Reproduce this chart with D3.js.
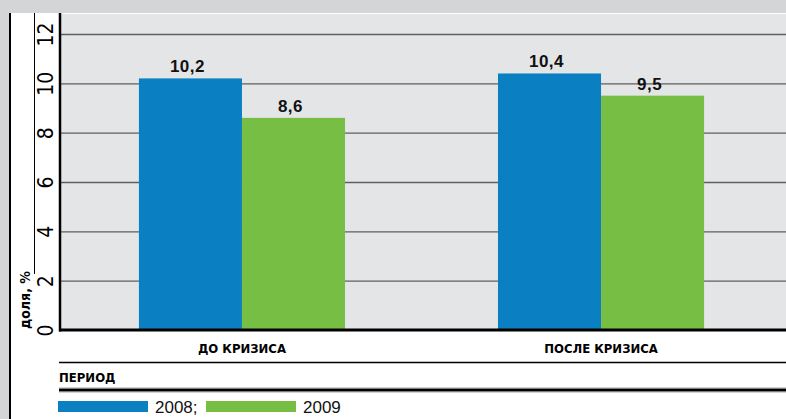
<!DOCTYPE html>
<html>
<head>
<meta charset="utf-8">
<script src="https://cdn.jsdelivr.net/npm/d3@7"></script>
<style>
  html, body { margin: 0; padding: 0; background: #fff; }
  svg { display: block; }
  .narrow { font-family: "Liberation Sans Narrow", "DejaVu Sans Condensed", "Liberation Sans", sans-serif; }
</style>
</head>
<body>
<svg id="chart" width="786" height="419"></svg>
<script>
// Periods on the x axis and the two yearly series (share, %)
const categories = ["ДО КРИЗИСА", "ПОСЛЕ КРИЗИСА"];
const seriesNames = ["2008", "2009"];
const values2008 = [10.2, 10.4];
const values2009 = [8.6, 9.5];
const yTicks = [0, 2, 4, 6, 8, 10, 12];
const valueLabels2008 = ["10,2", "10,4"];
const valueLabels2009 = ["8,6", "9,5"];
const legendLabels = ["2008;", "2009"];
const colors = ["#0a80c2", "#76bf44"];

const W = 786, H = 419;
const svg = d3.select("#chart");

const plotLeft = 61, plotRight = 786, plotTop = 14, plotBottom = 330;

const x = d3.scaleBand().domain(categories).range([plotLeft, 782])
  .paddingInner(0.426).paddingOuter(0.217);
const xs = d3.scaleBand().domain(seriesNames).range([0, x.bandwidth()]).padding(0);
const y = d3.scaleLinear().domain([0, 12]).range([plotBottom, 34]);

const rows = categories.map((c, i) => ({
  cat: c,
  items: [
    { s: seriesNames[0], v: values2008[i], label: valueLabels2008[i] },
    { s: seriesNames[1], v: values2009[i], label: valueLabels2009[i] }
  ]
}));

// page frame
svg.append("rect").attr("x", 0).attr("y", 0).attr("width", W).attr("height", H).attr("fill", "#fff");
svg.append("rect").attr("x", 0).attr("y", 0).attr("width", W).attr("height", 13).attr("fill", "#d4d5d7");
svg.append("rect").attr("x", 0).attr("y", 0).attr("width", 9).attr("height", H).attr("fill", "#d4d5d7");
svg.append("line").attr("x1", 10).attr("x2", 10).attr("y1", 13).attr("y2", H)
  .attr("stroke", "#000").attr("stroke-width", 2);
svg.append("line").attr("x1", 34.5).attr("x2", 34.5).attr("y1", 13).attr("y2", 274)
  .attr("stroke", "#000").attr("stroke-width", 1);

// plot background
svg.append("rect").attr("x", plotLeft).attr("y", plotTop)
  .attr("width", plotRight - plotLeft).attr("height", plotBottom - plotTop)
  .attr("fill", "#e4e5e7");

// gridlines and rotated tick labels
const yAxis = svg.append("g").attr("transform", `translate(${plotLeft},0)`)
  .call(d3.axisLeft(y).tickValues(yTicks).tickSize(-(plotRight - plotLeft)).tickFormat(d3.format("d")));
yAxis.select(".domain").remove();
yAxis.selectAll(".tick line").attr("stroke", "#5f5f5f").attr("stroke-width", 1.3)
  .filter(d => d === 0).remove();
yAxis.selectAll(".tick text")
  .attr("class", "narrow")
  .attr("x", null).attr("dy", null)
  .attr("transform", "translate(-8,0) rotate(-90)")
  .attr("text-anchor", "middle")
  .attr("dy", "0")
  .attr("fill", "#000")
  .style("font-size", "21px");

// bars
const groups = svg.append("g").selectAll("g").data(rows).join("g")
  .attr("transform", d => `translate(${x(d.cat)},0)`);
groups.selectAll("rect").data(d => d.items).join("rect")
  .attr("x", d => xs(d.s)).attr("width", xs.bandwidth())
  .attr("y", d => y(d.v)).attr("height", d => y(0) - y(d.v))
  .attr("fill", (d, i) => colors[i]);
groups.selectAll("text").data(d => d.items).join("text")
  .attr("x", d => xs(d.s) + xs.bandwidth() / 2 - 3)
  .attr("y", d => y(d.v) - 6)
  .attr("text-anchor", "middle")
  .attr("font-family", "Liberation Sans, Arial, sans-serif")
  .attr("font-weight", "bold")
  .attr("font-size", 17)
  .attr("letter-spacing", 0.5)
  .attr("fill", "#111")
  .text(d => d.label);

// axis lines
svg.append("line").attr("x1", 60).attr("x2", 60).attr("y1", 13).attr("y2", 331.5)
  .attr("stroke", "#000").attr("stroke-width", 2.5);
svg.append("line").attr("x1", 59).attr("x2", plotRight).attr("y1", 330).attr("y2", 330)
  .attr("stroke", "#000").attr("stroke-width", 3);

// y title
svg.append("text").attr("class", "narrow")
  .attr("transform", "translate(30,329) rotate(-90)")
  .attr("font-weight", "bold").attr("font-size", 14).attr("fill", "#000")
  .text("доля, %");

// category labels
svg.append("g").selectAll("text").data(categories).join("text")
  .attr("class", "narrow")
  .attr("x", d => x(d) + x.bandwidth() / 2)
  .attr("y", 353)
  .attr("text-anchor", "middle")
  .attr("font-weight", "bold").attr("font-size", 13).attr("fill", "#000")
  .text(d => d);

svg.append("line").attr("x1", 59).attr("x2", plotRight).attr("y1", 362.5).attr("y2", 362.5)
  .attr("stroke", "#000").attr("stroke-width", 1.5);
svg.append("text").attr("class", "narrow")
  .attr("x", 59).attr("y", 382)
  .attr("font-weight", "bold").attr("font-size", 13).attr("fill", "#000")
  .text("ПЕРИОД");
svg.append("line").attr("x1", 59).attr("x2", plotRight).attr("y1", 390).attr("y2", 390)
  .attr("stroke", "#a8a8a8").attr("stroke-width", 5);
svg.append("line").attr("x1", 59).attr("x2", plotRight).attr("y1", 390).attr("y2", 390)
  .attr("stroke", "#000").attr("stroke-width", 2.5);

// legend
const legendX = [58, 206];
const lg = svg.append("g").selectAll("g").data(seriesNames).join("g")
  .attr("transform", (d, i) => `translate(${legendX[i]},401)`);
lg.append("rect").attr("width", 90).attr("height", 11).attr("fill", (d, i) => colors[i]);
lg.append("text").attr("x", 97).attr("y", 12)
  .attr("font-family", "Liberation Sans, Arial, sans-serif")
  .attr("font-size", 17).attr("fill", "#111")
  .text((d, i) => legendLabels[i]);
</script>
</body>
</html>
